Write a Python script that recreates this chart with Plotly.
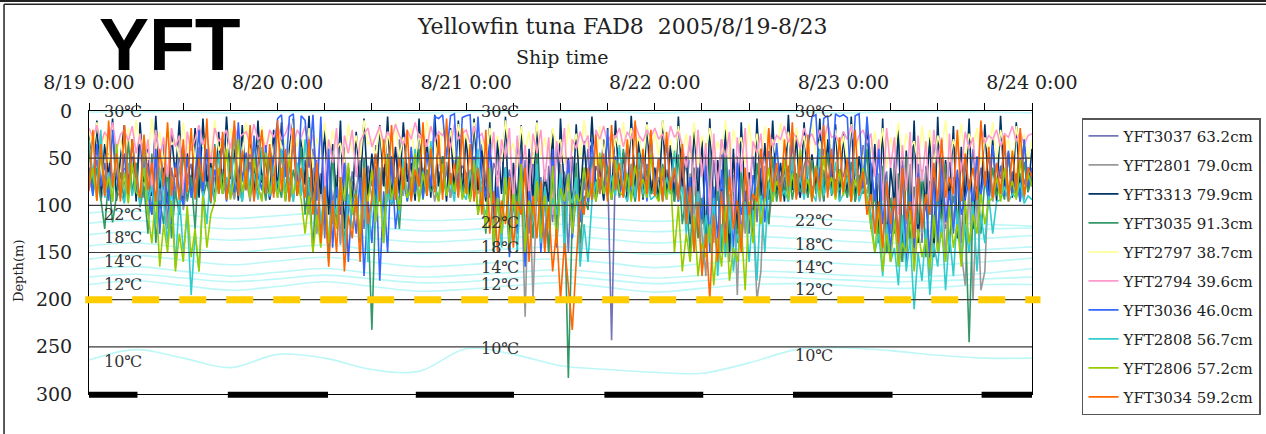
import plotly.graph_objects as go
import pandas as pd

START = "2005-08-19 00:00"
END = "2005-08-24 00:00"
STEP = "30min"
ISO_STEP = "6h"

fish_names = ["YFT3037 63.2cm", "YFT2801 79.0cm", "YFT3313 79.9cm", "YFT3035 91.3cm",
              "YFT2797 38.7cm", "YFT2794 39.6cm", "YFT3036 46.0cm", "YFT2808 56.7cm",
              "YFT2806 57.2cm", "YFT3034 59.2cm"]
fish_colors = ["#7474b8", "#999999", "#003366", "#339966", "#ffff99",
               "#ff99cc", "#3366ff", "#33cccc", "#99cc00", "#ff6600"]

# depth (m) every 30 min from 8/19 0:00
yft3037 = [60,75,52,88,70,45,82,66,90,58,72,40,85,30,92,55,110,48,95,35,120,60,88,42,100,70,56,90,38,84,62,95,44,78,30,86,58,92,66,40,80,54,95,36,74,88,50,68,
           82,45,90,62,35,88,70,52,95,40,120,66,135,50,98,72,140,38,110,64,90,46,125,58,80,36,92,60,74,48,88,30,70,56,94,42,80,66,90,50,76,38,85,62,92,44,70,58,
           66,90,48,82,35,75,92,55,68,40,88,62,95,30,110,52,130,44,96,70,145,58,118,36,90,64,150,48,100,72,84,40,96,58,70,30,62,243,52,92,44,78,60,90,38,82,56,74,
           88,50,72,94,40,66,85,58,92,36,78,60,120,45,140,52,95,30,150,62,110,48,135,70,90,42,118,56,80,38,96,64,72,50,88,34,76,92,58,44,86,68,90,40,74,56,82,62,
           70,48,92,60,84,36,78,55,96,42,88,64,130,50,155,38,120,66,160,44,140,58,110,35,150,62,125,48,98,70,140,52,88,40,95,60,80,46,92,56,72,38,86,64,90,50,78,60,
           66]
yft2801 = [70,88,62,95,78,90,66,84,92,74,88,60,80,95,72,86,110,64,98,76,125,70,92,58,105,80,68,94,74,88,56,96,70,84,62,90,78,94,66,88,72,96,60,84,90,70,94,78,
           86,64,92,74,96,58,88,70,110,62,130,78,95,55,120,68,142,60,100,74,88,52,115,66,92,58,84,70,96,62,80,74,90,56,86,68,94,60,82,72,96,64,88,54,92,70,84,66,
           80,94,62,88,74,96,58,110,70,125,60,140,66,120,74,218,58,200,80,96,62,150,70,110,56,130,68,92,74,160,60,98,72,86,54,94,66,88,60,92,70,84,56,96,64,90,72,86,
           88,70,94,62,84,76,96,58,120,66,110,74,130,175,60,140,70,150,56,160,68,195,62,130,74,110,200,170,58,120,80,62,96,70,88,56,92,74,84,60,90,68,96,62,86,74,92,66,
           84,70,96,62,90,74,88,58,130,66,150,72,120,60,165,68,140,56,155,70,130,62,175,66,145,60,160,70,120,64,150,185,72,200,80,190,170,64,96,74,88,62,92,70,84,66,94,60,
           80]
yft3313 = [20,85,10,92,35,70,8,95,50,15,88,30,96,12,75,40,90,5,82,60,98,25,70,10,94,45,85,18,92,8,78,55,96,22,88,6,72,40,95,15,84,30,90,10,76,50,94,20,
           86,12,95,40,8,90,28,78,5,96,52,88,18,110,35,92,10,125,60,98,22,85,8,90,45,96,15,80,6,94,38,88,12,75,55,95,8,86,30,92,4,80,48,96,18,88,10,90,
           25,94,8,84,42,96,12,120,30,88,6,135,55,98,15,150,40,92,10,125,68,96,20,140,8,88,50,110,14,96,32,90,6,84,58,95,18,92,10,86,44,96,5,80,28,94,12,88,
           60,95,10,88,36,96,6,82,48,120,15,92,30,140,8,115,52,96,20,150,40,125,12,98,65,130,8,90,34,94,10,88,55,96,4,84,26,92,12,90,46,80,8,96,30,86,14,94,
           22,90,6,96,48,84,12,92,35,130,8,150,60,98,18,160,42,120,10,140,70,96,25,155,6,110,52,94,16,135,38,96,8,125,60,92,14,88,30,96,5,84,44,92,12,90,26,86,
           40]
yft3035 = [40,85,60,95,125,70,118,90,65,96,30,88,55,102,80,130,45,140,95,120,60,135,85,110,40,96,70,125,50,92,75,98,35,88,66,94,48,86,72,96,58,90,30,84,68,95,52,88,
           74,92,46,96,62,85,38,110,70,150,55,130,88,160,42,120,76,145,60,98,84,140,50,112,232,90,66,135,45,100,80,125,58,96,70,88,40,94,62,86,78,95,48,90,66,84,55,92,
           70,96,52,110,80,130,44,150,92,120,60,145,75,98,50,160,88,135,40,118,82,150,64,125,70,96,283,110,55,140,90,105,48,96,72,88,58,94,66,90,40,86,74,96,52,92,62,88,
           80,94,56,90,70,96,46,120,88,150,60,135,92,145,50,118,78,150,42,130,86,140,64,110,72,125,55,98,80,120,48,96,70,90,58,94,66,86,74,92,52,88,60,95,44,90,72,84,
           76,92,54,96,68,88,40,125,84,140,58,150,92,130,66,160,48,145,80,120,62,155,74,135,90,118,56,150,70,125,84,110,245,96,58,130,72,98,60,90,78,94,46,88,66,96,54,86,
           70]
yft2797 = [20,45,12,38,25,55,15,42,30,60,18,48,10,35,28,52,8,40,22,58,14,36,30,50,12,44,20,56,16,38,26,48,10,42,32,54,18,36,24,50,12,46,28,58,16,40,22,52,
           15,42,30,56,10,38,24,50,18,60,28,46,12,54,20,40,34,58,14,44,26,52,10,36,30,48,16,56,22,42,12,50,28,38,18,54,24,46,10,40,32,56,16,44,20,52,14,38,
           24,50,12,44,30,58,18,40,26,54,10,46,34,60,16,42,22,56,12,48,28,52,18,38,30,56,14,44,24,50,10,40,32,58,16,46,20,54,26,42,12,50,18,38,28,56,14,46,
           22,48,10,40,30,56,16,44,24,52,12,58,26,42,18,50,32,46,10,54,20,38,28,56,14,48,24,60,16,42,30,50,12,44,22,56,18,40,26,52,10,46,32,58,14,42,20,50,
           26,54,14,42,30,58,10,46,22,50,18,60,28,44,12,52,24,40,32,56,16,48,20,58,26,42,10,54,30,46,14,50,24,38,18,56,28,44,12,52,20,40,30,58,16,48,24,54,
           30]
yft2794 = [18,28,15,35,22,30,12,40,25,20,32,16,45,24,60,30,85,20,50,28,70,18,38,26,90,22,42,30,15,36,24,55,18,32,28,20,40,16,30,25,22,35,14,30,26,42,20,28,
           15,30,24,12,36,20,28,16,40,25,65,22,80,30,55,18,95,26,45,20,70,32,24,18,38,28,16,34,22,30,14,26,36,20,30,12,28,24,38,16,32,22,26,18,40,14,30,24,
           20,34,16,28,24,40,60,22,85,30,50,18,100,26,70,36,90,24,45,20,75,28,110,32,55,18,95,30,40,22,36,26,80,20,30,16,34,24,28,18,38,22,30,14,26,32,20,28,
           18,30,24,40,16,28,22,36,60,26,90,20,70,34,110,24,85,30,50,22,120,28,65,18,95,32,45,24,80,20,38,26,30,16,34,22,28,40,18,30,24,36,20,32,14,28,26,34,
           22,30,16,38,26,20,34,24,70,30,95,18,60,28,110,36,85,22,130,26,75,32,100,20,55,28,120,24,90,30,65,22,40,28,80,18,34,26,30,20,38,24,28,16,32,22,36,26,
           24]
yft3036 = [60,90,35,80,55,95,20,70,85,45,92,30,75,96,50,88,110,40,130,65,95,120,55,85,100,48,92,70,20,88,40,94,62,80,30,96,58,86,12,75,44,90,26,68,84,36,92,52,
           8,4,70,6,3,85,5,10,60,4,95,6,120,40,145,80,110,55,160,92,130,70,175,95,140,60,180,85,150,48,125,90,70,95,38,86,60,92,44,80,6,8,4,50,5,3,90,7,
           5,4,88,6,70,92,35,120,80,140,60,155,96,130,48,165,85,110,58,150,92,125,40,145,75,98,52,135,88,118,64,96,30,90,56,84,20,94,48,88,70,36,92,60,86,42,96,24,
           80,50,94,30,88,64,96,45,120,70,140,90,115,58,150,80,135,62,125,96,145,55,110,85,130,68,95,40,118,76,92,34,86,60,96,28,84,54,90,38,6,4,80,8,5,70,3,6,
           4,7,92,5,3,85,6,60,95,40,120,75,150,92,135,58,160,88,145,66,125,96,155,70,140,50,118,85,130,62,110,92,75,96,48,88,64,94,36,82,58,90,42,86,70,96,30,80,
           60]
yft2808 = [30,70,88,20,92,65,96,40,85,98,55,90,70,100,35,95,80,120,60,96,140,75,165,90,150,110,195,130,170,85,120,60,96,45,88,70,92,25,80,96,50,88,66,94,38,82,90,58,
           92,40,86,70,96,55,90,30,84,98,62,120,80,140,95,110,70,150,88,125,100,135,76,160,92,115,60,140,85,98,70,110,50,92,86,40,96,64,88,32,80,95,56,90,74,96,48,86,
           94,62,88,40,96,110,75,130,92,145,60,120,88,150,70,135,96,118,56,140,80,125,92,110,66,150,85,98,70,165,120,160,96,75,88,50,94,68,90,36,86,96,58,92,44,88,76,94,
           90,54,96,70,88,42,94,80,130,96,150,85,165,110,140,92,175,120,155,88,170,130,145,96,160,105,180,90,150,75,96,60,92,84,96,48,88,70,94,58,86,96,40,90,72,88,54,96,
           88,70,94,50,96,82,90,110,150,130,175,120,160,145,185,110,170,135,210,150,180,125,195,140,165,115,190,130,175,105,160,120,150,96,170,110,140,90,130,96,94,80,96,88,92,76,98,90,
           94]
yft2806 = [80,60,95,45,88,70,96,35,90,65,98,55,86,92,60,110,140,85,165,120,150,95,170,130,160,100,155,125,170,90,145,110,96,60,88,40,94,72,30,86,64,92,50,80,96,44,88,70,
           92,60,96,48,88,75,94,130,90,150,110,145,85,140,100,125,70,96,55,110,88,130,76,96,62,118,84,140,50,94,72,105,60,92,80,45,96,66,88,38,84,96,56,90,70,86,48,94,
           78,96,52,110,86,125,60,140,92,130,70,145,88,120,56,150,95,110,74,135,90,125,58,140,82,96,66,130,88,98,60,92,76,96,44,88,70,94,52,86,90,66,96,58,84,72,92,46,
           88,96,60,94,70,150,100,170,130,160,110,175,140,155,120,185,135,165,100,180,145,160,120,190,96,140,80,120,92,60,96,74,88,52,94,66,90,40,86,72,96,58,92,48,84,70,94,62,
           90,56,96,72,88,60,94,120,150,100,170,130,160,115,165,140,150,105,170,125,155,135,168,110,150,128,160,100,145,120,165,95,140,110,130,88,120,96,92,70,96,60,88,74,94,52,90,66,
           80]
yft3034 = [85,20,95,35,90,10,80,45,96,15,88,30,70,92,25,84,55,96,40,80,12,90,60,94,30,86,18,92,50,75,8,96,38,88,22,94,65,10,90,42,84,15,96,55,20,88,35,92,
           10,85,40,96,18,90,60,92,30,110,55,140,80,165,95,150,70,170,110,135,88,160,60,120,92,45,96,30,88,15,94,50,84,20,96,62,80,12,90,40,86,25,94,8,78,55,92,18,
           88,35,96,60,110,20,130,85,150,95,120,70,145,96,110,60,160,90,135,75,150,100,170,125,200,140,185,232,160,96,110,60,94,25,88,45,96,15,84,55,92,30,80,10,96,40,88,20,
           90,50,96,22,84,60,94,35,120,80,150,96,175,130,200,110,160,85,140,70,125,95,150,60,110,88,96,40,92,18,86,55,96,30,80,12,94,48,88,25,96,60,84,15,92,40,90,28,
           86,50,96,20,90,64,110,88,130,96,145,75,120,92,140,60,115,96,135,70,125,88,110,55,96,30,92,70,88,20,96,45,84,60,94,10,80,38,92,55,88,26,96,42,84,18,90,60,
           70]

fish_depths = [yft3037, yft2801, yft3313, yft3035, yft2797,
               yft2794, yft3036, yft2808, yft2806, yft3034]

# isotherm depths (m) every 6 h
iso_30 = [1, 1, 1, 2, 1, 1, 1, 2, 1, 1, 1, 1, 2, 1, 1, 1, 2, 1, 1, 1, 2]
iso_22 = [108,106,110,114,111,108,112,116,115,112,110,114,117,114,111,113,116,119,118,120,122]
iso_21 = [119,116,121,125,122,118,123,127,126,122,120,125,128,125,121,123,126,128,127,125,124]
iso_20 = [131,128,133,137,134,130,135,139,137,134,132,136,140,137,133,135,138,140,138,135,132]
iso_19 = [143,140,145,150,146,142,147,151,149,146,144,148,152,149,145,146,149,151,150,147,144]
iso_18 = [157,153,158,163,159,155,160,165,163,159,157,161,166,162,158,159,162,164,163,160,156]
iso_16 = [168,165,170,175,171,167,172,176,174,171,168,172,177,174,170,171,174,176,175,172,167]
iso_14 = [176,173,177,181,178,174,178,182,181,177,175,179,183,180,176,177,179,181,180,178,176]
iso_12 = [184,180,185,190,186,181,186,191,189,185,182,187,192,188,184,183,185,188,187,184,184]
iso_10 = [264,253,262,272,258,262,274,276,252,258,270,274,277,278,267,253,251,254,259,262,262]
iso_all = [iso_30, iso_22, iso_21, iso_20, iso_19, iso_18, iso_16, iso_14, iso_12, iso_10]

# temperature labels
temp_text = ["30℃", "22℃", "18℃", "14℃", "12℃", "10℃"]
label_x = ["2005-08-19 01:40", "2005-08-21 01:40", "2005-08-22 17:38", "2005-08-24 01:43"]
label_depths = [[0, 110, 134, 160, 184, 266],
                [0, 118, 145, 166, 184, 252],
                [0, 116, 142, 166, 189, 259],
                [2, 126, 145, 166, 188, 263]]

depth_ticks = [0, 50, 100, 150, 200, 250, 300]
limit_depth = 200
nights = [("2005-08-19 00:00", "2005-08-19 06:10"),
          ("2005-08-19 17:40", "2005-08-20 06:25"),
          ("2005-08-20 17:35", "2005-08-21 06:05"),
          ("2005-08-21 17:35", "2005-08-22 06:10"),
          ("2005-08-22 17:35", "2005-08-23 06:15"),
          ("2005-08-23 17:35", "2005-08-24 00:00")]

SERIF = "DejaVu Serif, Noto Sans CJK JP"

fig = go.Figure()

iso_times = pd.date_range(START, periods=len(iso_30), freq=ISO_STEP)
for iso in iso_all:
    fig.add_trace(go.Scatter(x=iso_times, y=iso, mode="lines", showlegend=False,
                             line=dict(color="#bdf7f7", width=1.6, shape="spline"),
                             hoverinfo="skip"))

for i, (name, col, dep) in enumerate(zip(fish_names, fish_colors, fish_depths)):
    t = pd.date_range(START, periods=len(dep), freq=STEP)
    fig.add_trace(go.Scatter(x=t, y=dep, mode="lines", name=name,
                             legendgroup="g%d" % i,
                             line=dict(color=col, width=1.6)))

shapes = []
for d in depth_ticks[1:-1]:
    shapes.append(dict(type="line", xref="paper", yref="y", x0=0, x1=1, y0=d, y1=d,
                       line=dict(color="#3a3a3a", width=1.2), layer="above"))
shapes.append(dict(type="line", xref="paper", yref="y", x0=-0.004, x1=1.009,
                   y0=limit_depth, y1=limit_depth,
                   line=dict(color="#ffcc00", width=7, dash="27px,20px"), layer="above"))
for a, b in nights:
    shapes.append(dict(type="line", xref="x", yref="paper", x0=a, x1=b, y0=-0.003, y1=-0.003,
                       line=dict(color="black", width=6), layer="above"))
# outer frame
shapes.append(dict(type="line", xref="paper", yref="paper", x0=-0.095, x1=1.3, y0=1.389, y1=1.389,
                   line=dict(color="#222", width=2)))
shapes.append(dict(type="line", xref="paper", yref="paper", x0=-0.09, x1=1.3, y0=1.377, y1=1.377,
                   line=dict(color="#222", width=1.5)))
shapes.append(dict(type="line", xref="paper", yref="paper", x0=-0.0901, x1=-0.0901, y0=1.377, y1=-0.2,
                   line=dict(color="#222", width=1.5)))

annotations = []
for lx, deps in zip(label_x, label_depths):
    for txt, d in zip(temp_text, deps):
        annotations.append(dict(x=lx, y=d, xref="x", yref="y", text=txt, showarrow=False,
                                xanchor="left", yanchor="middle",
                                font=dict(family=SERIF, size=16, color="#333")))
annotations += [
    dict(x=0.0859, y=1.235, xref="paper", yref="paper", text="<b>YFT</b>", showarrow=False,
         xanchor="center", yanchor="middle",
         font=dict(family="Liberation Sans, Arial", size=75, color="black")),
    dict(x=0.565, y=1.297, xref="paper", yref="paper",
         text="Yellowfin tuna FAD8  2005/8/19-8/23", showarrow=False,
         xanchor="center", yanchor="middle", font=dict(family=SERIF, size=22, color="#222")),
    dict(x=0.5016, y=1.191, xref="paper", yref="paper", text="Ship time", showarrow=False,
         xanchor="center", yanchor="middle", font=dict(family=SERIF, size=19, color="#222")),
    dict(x=-0.0753, y=0.438, xref="paper", yref="paper", text="Depth(m)", showarrow=False,
         textangle=-90, xanchor="center", yanchor="middle",
         font=dict(family=SERIF, size=13, color="#222")),
]

fig.update_layout(
    width=1266, height=434,
    margin=dict(l=89, r=234, t=111, b=40, autoexpand=False),
    paper_bgcolor="white", plot_bgcolor="white",
    font=dict(family=SERIF, color="#222"),
    showlegend=True,
    legend=dict(x=1.053, y=0.975, xanchor="left", yanchor="top",
                bgcolor="white", bordercolor="#555", borderwidth=1.5,
                font=dict(family=SERIF, size=15, color="#222"),
                tracegroupgap=6.5, itemwidth=30),
    shapes=shapes, annotations=annotations,
    xaxis=dict(type="date", range=[START, END], side="top", automargin=False,
               tick0=START, dtick=86400000, tickformat="%-m/%-d %-H:%M",
               ticks="outside", ticklen=7, tickcolor="black", tickwidth=1,
               minor=dict(dtick=21600000, ticks="outside", ticklen=7, tickcolor="black", showgrid=False),
               showgrid=False, zeroline=False, showline=True, linecolor="black", linewidth=1,
               mirror=True, tickfont=dict(family=SERIF, size=19, color="#222"),
               ticklabelstandoff=6),
    yaxis=dict(range=[300, 0], tickvals=depth_ticks, showgrid=False, zeroline=False, automargin=False,
               showline=True, linecolor="black", linewidth=1, mirror=True, ticks="",
               tickfont=dict(family=SERIF, size=19, color="#222"), ticklabelstandoff=12),
)

try:
    fig.update_layout(legend_maxheight=300)
except (ValueError, AttributeError):
    fig.update_layout(legend_tracegroupgap=5)

fig.write_html("out.html", config={"displayModeBar": False},
               post_script="document.body.style.margin='0';document.body.style.overflow='hidden';")
